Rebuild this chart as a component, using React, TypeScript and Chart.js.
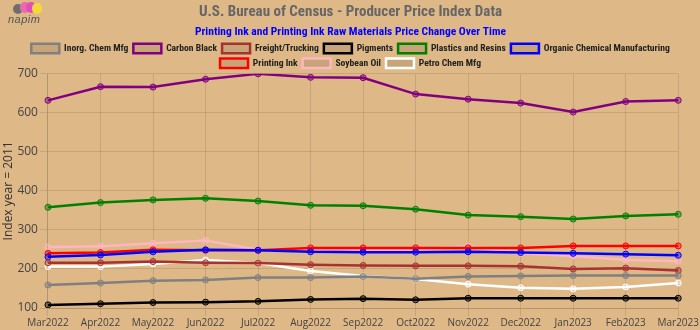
import React, { useEffect, useRef } from "react";
import { Chart, registerables } from "chart.js";

Chart.register(...registerables);

const months = ["Mar2022","Apr2022","May2022","Jun2022","Jul2022","Aug2022","Sep2022","Oct2022","Nov2022","Dec2022","Jan2023","Feb2023","Mar2023"];

const inorgChem = [159,164,170,172,178,178,181,175,181,182,183,183,183];
const carbonBlack = [632,667,666,686,700,691,690,648,635,625,602,629,632];
const freight = [216,216,219,216,215,211,209,208,208,207,200,202,196];
const pigments = [108,111,114,115,117,122,124,121,125,125,125,125,125];
const plastics = [358,370,377,381,374,363,362,353,338,334,328,336,340];
const organicChem = [231,236,244,249,248,244,243,243,244,242,240,238,235];
const printingInk = [240,242,249,248,248,254,254,254,254,254,259,259,259];
const soybeanOil = [256,258,266,273,249,252,250,250,258,240,233,223,220];
const petroChem = [206,206,213,223,215,195,182,174,161,152,149,154,164];

const seriesNames = ["Inorg. Chem Mfg","Carbon Black","Freight/Trucking","Pigments","Plastics and Resins","Organic Chemical Manufacturing","Printing Ink","Soybean Oil","Petro Chem Mfg"];
const seriesValues = [inorgChem, carbonBlack, freight, pigments, plastics, organicChem, printingInk, soybeanOil, petroChem];
const seriesColors = ["#808080","#800080","#A83232","#000000","#008000","#0000FF","#FF0000","#FFB6C1","#FFFFFF"];

const yTicks = { min: 100, max: 700, step: 100 };

const COND = "'Roboto Condensed', 'Liberation Sans', sans-serif";

export default function App() {
  const ref = useRef<HTMLCanvasElement | null>(null);
  useEffect(() => {
    if (!ref.current) return;
    const chart = new Chart(ref.current, {
      type: "line",
      data: {
        labels: months,
        datasets: seriesNames.map((name, i) => ({
          label: name,
          data: seriesValues[i],
          borderColor: seriesColors[i],
          backgroundColor: "rgba(150,120,90,0.3)",
          pointBackgroundColor: seriesColors[i] + "66",
          pointBorderColor: seriesColors[i],
          pointRadius: 3,
          pointBorderWidth: 1,
          borderWidth: 2.5,
          tension: 0,
        })),
      },
      options: {
        animation: false,
        responsive: false,
        maintainAspectRatio: false,
        layout: { padding: { left: 1, right: 0, top: 0, bottom: 0 } },
        plugins: {
          title: {
            display: true,
            text: "U.S. Bureau of Census - Producer Price Index Data",
            color: "#666666",
            font: { family: COND, size: 15, weight: "bold" },
            padding: { top: 3, bottom: 2 },
          },
          subtitle: {
            display: true,
            text: "Printing Ink and Printing Ink Raw Materials Price Change Over Time",
            color: "#0000FF",
            font: { family: COND, size: 11.5, weight: "bold" },
            padding: { top: 2, bottom: 0 },
          },
          legend: {
            display: true,
            maxHeight: 35,
            labels: {
              color: "#222222",
              boxWidth: 28,
              boxHeight: 9.5,
              padding: 5,
              font: { family: COND, size: 9.6, weight: "bold" },
            },
          },
          tooltip: { enabled: false },
        },
        scales: {
          x: {
            grid: { color: "rgba(0,0,0,0.1)" },
            border: { color: "rgba(0,0,0,0.1)" },
            ticks: { color: "#444444", font: { family: "Open Sans", size: 10 }, maxRotation: 0, padding: 1 },
          },
          y: {
            min: yTicks.min,
            max: yTicks.max,
            grid: { color: "rgba(0,0,0,0.1)" },
            border: { color: "rgba(0,0,0,0.1)" },
            ticks: { stepSize: yTicks.step, color: "#444444", font: { family: "Open Sans", size: 12 }, padding: 2 },
            title: {
              display: true,
              text: "Index year = 2011",
              color: "#333333",
              font: { family: "Open Sans", size: 12 },
              padding: 0,
            },
          },
        },
      },
    });
    return () => chart.destroy();
  }, []);

  return (
    <div style={{ position: "fixed", left: 0, top: 0, width: 700, height: 330, background: "#DEB887" }}>
      <canvas ref={ref} width={700} height={330} style={{ display: "block" }} />
      <div style={{ position: "absolute", left: 7, top: 1, width: 40, height: 26, pointerEvents: "none" }}>
        <div style={{ position: "absolute", left: 6, top: 3, width: 10, height: 10, borderRadius: 5, background: "#6e6e6e" }} />
        <div style={{ position: "absolute", left: 13, top: 1, width: 10, height: 11, borderRadius: 5, background: "#e86bb0" }} />
        <div style={{ position: "absolute", left: 19, top: 1, width: 10, height: 11, borderRadius: 5, background: "#e44db6" }} />
        <div style={{ position: "absolute", left: 25, top: 2, width: 10, height: 11, borderRadius: 5, background: "#f2da3c" }} />
        <div style={{ position: "absolute", left: 1, top: 12, fontFamily: "Liberation Sans", fontStyle: "italic", fontSize: 11, color: "#555", letterSpacing: 0.5 }}>napim</div>
      </div>
    </div>
  );
}
